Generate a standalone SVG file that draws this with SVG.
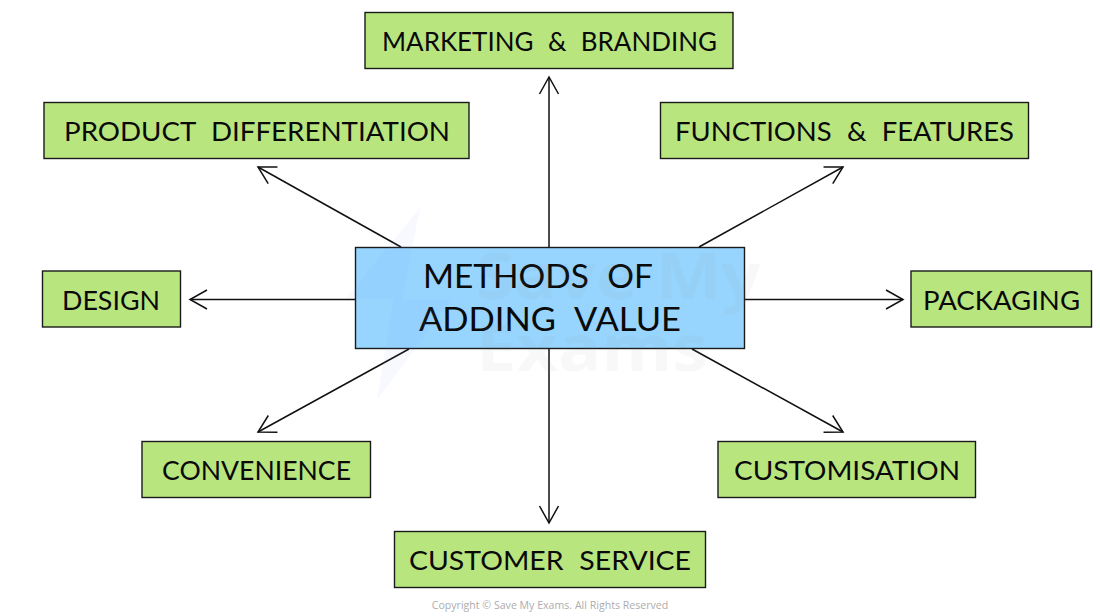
<svg xmlns="http://www.w3.org/2000/svg" width="1100" height="616" viewBox="0 0 1100 616">
<style>
.box{stroke:#1a1a1a;stroke-width:1.4}
.g{fill:#b9e57f}
.b{fill:#97d5fe}
.t{font-family:"Lato","Liberation Sans",sans-serif;font-size:26.5px;fill:#0a0a0a;word-spacing:8px}
.c{font-family:"Lato","Liberation Sans",sans-serif;font-size:33.5px;fill:#0a0a0a;word-spacing:10px}
.line{fill:none;stroke:#111;stroke-width:1.5}
.w{font-family:"Open Sans","Liberation Sans",sans-serif;font-weight:700;font-size:64px;fill:#8a8a8a;fill-opacity:.06}
</style>
<defs>
<marker id="arrow" viewBox="-20 -12 22 24" markerUnits="userSpaceOnUse" markerWidth="22" markerHeight="24" refX="0" refY="0" orient="auto">
<path d="M-17-9.500 0 0-17 9.500" fill="none" stroke="#111" stroke-width="1.5"/>
</marker>
</defs>
<g id="connectors">
<path class="line" marker-end="url(#arrow)" d="M549 247V77"/>
<path class="line" marker-end="url(#arrow)" d="M549 348V523"/>
<path class="line" marker-end="url(#arrow)" d="M355 299.500H190"/>
<path class="line" marker-end="url(#arrow)" d="M745 299.500H903"/>
<path class="line" marker-end="url(#arrow)" d="M401 247 258 167"/>
<path class="line" marker-end="url(#arrow)" d="M699 247 843 167"/>
<path class="line" marker-end="url(#arrow)" d="M409 349 258 432"/>
<path class="line" marker-end="url(#arrow)" d="M692 349 843 432"/>
</g>
<g id="center">
<rect class="box b" x="355.500" y="247.500" width="389" height="101"/>
<text class="c" x="423" y="288" textLength="230" lengthAdjust="spacingAndGlyphs">METHODS OF</text>
<text class="c" x="419" y="331" textLength="262" lengthAdjust="spacingAndGlyphs">ADDING VALUE</text>
</g>
<g id="marketing">
<rect class="box g" x="365" y="12.500" width="368" height="56"/>
<text class="t" x="382" y="51" textLength="335" lengthAdjust="spacingAndGlyphs">MARKETING &amp; BRANDING</text>
</g>
<g id="differentiation">
<rect class="box g" x="44" y="102.500" width="425" height="56"/>
<text class="t" x="64" y="141" textLength="386" lengthAdjust="spacingAndGlyphs">PRODUCT DIFFERENTIATION</text>
</g>
<g id="functions">
<rect class="box g" x="660.500" y="102.500" width="368" height="56"/>
<text class="t" x="675" y="141" textLength="339" lengthAdjust="spacingAndGlyphs">FUNCTIONS &amp; FEATURES</text>
</g>
<g id="design">
<rect class="box g" x="42.500" y="271" width="138" height="56"/>
<text class="t" x="62" y="310" textLength="98" lengthAdjust="spacingAndGlyphs">DESIGN</text>
</g>
<g id="packaging">
<rect class="box g" x="911" y="271" width="180.500" height="56"/>
<text class="t" x="923" y="310" textLength="157" lengthAdjust="spacingAndGlyphs">PACKAGING</text>
</g>
<g id="convenience">
<rect class="box g" x="142" y="441.500" width="228.500" height="56"/>
<text class="t" x="162" y="480" textLength="189" lengthAdjust="spacingAndGlyphs">CONVENIENCE</text>
</g>
<g id="customisation">
<rect class="box g" x="718" y="441.500" width="257.500" height="56"/>
<text class="t" x="734" y="480" textLength="226" lengthAdjust="spacingAndGlyphs">CUSTOMISATION</text>
</g>
<g id="service">
<rect class="box g" x="394.500" y="531.500" width="311" height="56"/>
<text class="t" x="409" y="570" textLength="282" lengthAdjust="spacingAndGlyphs">CUSTOMER SERVICE</text>
</g>
<g id="watermark">
<path d="M420 208 346 298 394 298 377 400 451 300 402 300Z" fill="#6f9cff" fill-opacity=".06"/>
<text class="w" x="476" y="299" textLength="285" lengthAdjust="spacingAndGlyphs">Save My</text>
<text class="w" x="476" y="371" textLength="232" lengthAdjust="spacingAndGlyphs">Exams</text>
</g>
<text x="550" y="609" text-anchor="middle" font-family="'Open Sans','Liberation Sans',sans-serif" font-size="10.600" fill="#adadad">Copyright © Save My Exams. All Rights Reserved</text>
</svg>
